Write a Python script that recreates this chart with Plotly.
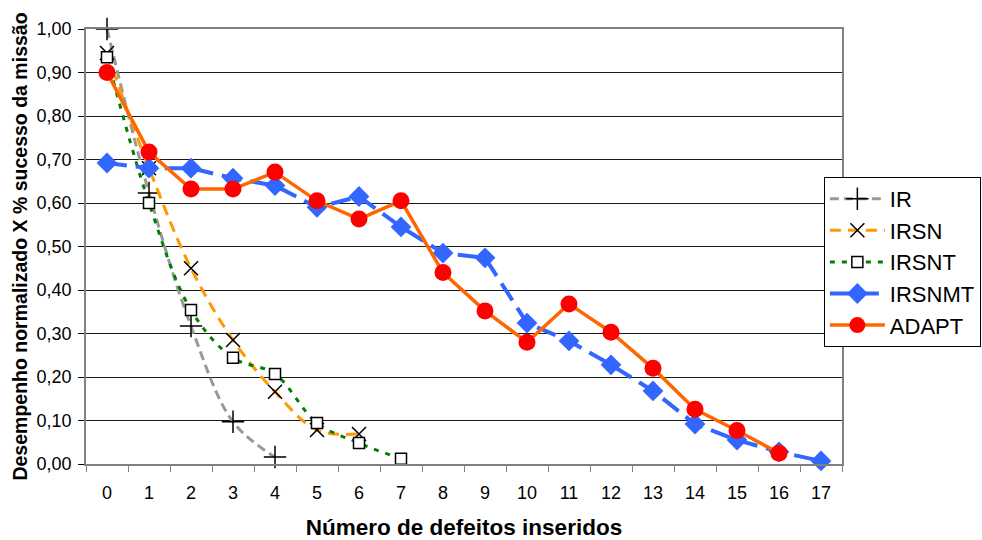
import plotly.graph_objects as go

# Number of inserted defects (category axis)
defects = list(range(18))

# Normalised performance per strategy
ir = [1.00, 0.623, 0.317, 0.097, 0.016]
irsn = [0.945, 0.68, 0.45, 0.285, 0.166, 0.078, 0.069]
irsnt = [0.935, 0.60, 0.354, 0.244, 0.207, 0.094, 0.048, 0.012]
irsnmt = [0.692, 0.68, 0.68, 0.657, 0.64, 0.59, 0.615, 0.545, 0.485, 0.474,
          0.324, 0.283, 0.228, 0.168, 0.092, 0.055, 0.028, 0.007]
adapt = [0.90, 0.717, 0.632, 0.632, 0.671, 0.605, 0.563, 0.605, 0.44, 0.352,
         0.28, 0.368, 0.303, 0.22, 0.126, 0.077, 0.025]

y_ticks = [i / 10 for i in range(11)]

FONT = "Liberation Sans, Arial, sans-serif"

fig = go.Figure()

fig.add_trace(go.Scatter(
    x=defects[:len(ir)], y=ir, name="IR", mode="lines+markers", cliponaxis=False,
    line=dict(color="#999999", width=3, dash="9px,5px", shape="spline", smoothing=1),
    marker=dict(symbol="cross-thin-open", size=16, color="black",
                line=dict(color="black", width=1.5)),
))
fig.add_trace(go.Scatter(
    x=defects[:len(irsn)], y=irsn, name="IRSN", mode="lines+markers", cliponaxis=False,
    line=dict(color="#FF9900", width=3, dash="11px,7px", shape="spline", smoothing=1),
    marker=dict(symbol="x-thin-open", size=14, color="black",
                line=dict(color="black", width=1.5)),
))
fig.add_trace(go.Scatter(
    x=defects[:len(irsnt)], y=irsnt, name="IRSNT", mode="lines+markers", cliponaxis=False,
    line=dict(color="#008000", width=3, dash="5px,7px", shape="spline", smoothing=1),
    marker=dict(symbol="square", size=11, color="white",
                line=dict(color="black", width=1.5)),
))
fig.add_trace(go.Scatter(
    x=defects[:len(irsnmt)], y=irsnmt, name="IRSNMT", mode="lines+markers", cliponaxis=False,
    line=dict(color="#3366FF", width=4, dash="20px,9px"),
    marker=dict(symbol="diamond", size=16, color="#3366FF"),
))
fig.add_trace(go.Scatter(
    x=defects[:len(adapt)], y=adapt, name="ADAPT", mode="lines+markers", cliponaxis=False,
    line=dict(color="#FF6600", width=3.5),
    marker=dict(symbol="circle", size=17, color="#FF0000"),
))

fig.update_layout(
    width=982, height=540,
    margin=dict(l=86, r=140, t=29, b=76, autoexpand=False),
    paper_bgcolor="white", plot_bgcolor="white",
    separators=", ",
    font=dict(family=FONT, size=18, color="black"),
    showlegend=True,
    legend=dict(
        x=0.976, y=0.66, xanchor="left", yanchor="top",
        bgcolor="white", bordercolor="black", borderwidth=1,
        font=dict(family=FONT, size=22, color="black"),
        itemwidth=55, tracegroupgap=0,
    ),
)

fig.update_xaxes(
    type="category", categoryorder="array", categoryarray=defects,
    range=[-0.5, len(defects) - 0.5], autorange=False,
    tickson="boundaries", ticks="outside", ticklen=6, tickcolor="#808080",
    ticklabelstandoff=12, automargin=False,
    showline=True, linecolor="#808080", linewidth=1.5, mirror=True,
    showgrid=False, zeroline=False,
    tickfont=dict(family=FONT, size=18, color="black"),
    title=dict(text="<b>Número de defeitos inseridos</b>",
               font=dict(family=FONT, size=22.5, color="black"), standoff=17),
)
fig.update_yaxes(
    range=[0, 1], tickvals=y_ticks, tickformat=".2f",
    ticks="outside", ticklen=6, tickcolor="black",
    ticklabelstandoff=3, automargin=False,
    showline=True, linecolor="#808080", linewidth=1.5, mirror=True,
    showgrid=True, gridcolor="#1a1a1a", gridwidth=1, zeroline=False,
    tickfont=dict(family=FONT, size=18, color="black"),
    title=dict(text="<b>Desempenho normalizado X % sucesso da missão</b>",
               font=dict(family=FONT, size=19.5, color="black"), standoff=4),
)

fig.write_html("out.html")
